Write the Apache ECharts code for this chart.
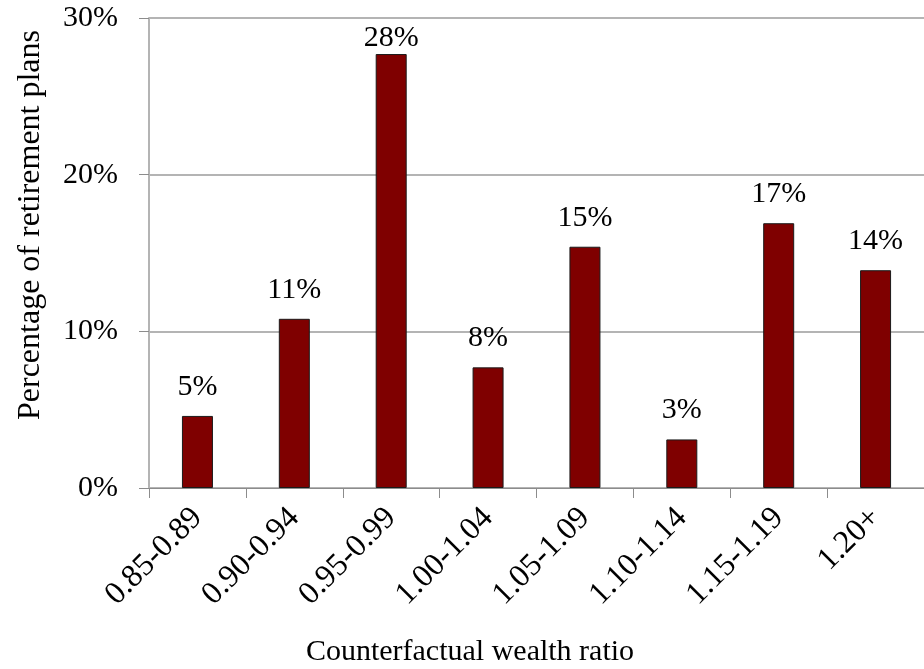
<!DOCTYPE html>
<html>
<head>
<meta charset="utf-8">
<script src="https://cdn.jsdelivr.net/npm/echarts@6/dist/echarts.min.js"></script>
<style>
  html, body { margin: 0; padding: 0; background: #fff; }
  #chart { width: 924px; height: 669px; }
</style>
</head>
<body>
<div id="chart"></div>
<script>
// Share of retirement plans by counterfactual wealth ratio bucket
const categories = ['0.85-0.89', '0.90-0.94', '0.95-0.99', '1.00-1.04', '1.05-1.09', '1.10-1.14', '1.15-1.19', '1.20+'];
const shares = [4.6, 10.8, 27.7, 7.7, 15.4, 3.1, 16.9, 13.9];
const yTicks = [0, 10, 20, 30];
const xTitle = 'Counterfactual wealth ratio';
const yTitle = 'Percentage of retirement plans';

const serif = '"Liberation Serif", "Times New Roman", serif';

const chart = echarts.init(document.getElementById('chart'), null, { renderer: 'canvas' });

const barData = shares.map(v => {
  const item = { value: v };
  // the tallest bar's label sits closer, kept inside the plot
  if (v === Math.max(...shares)) item.label = { distance: 1 };
  return item;
});

chart.setOption({
  animation: false,
  backgroundColor: '#ffffff',
  grid: { left: 149, right: -7, top: 18, bottom: 181, containLabel: false },
  xAxis: {
    type: 'category',
    data: categories,
    boundaryGap: true,
    axisLine: { show: true, lineStyle: { color: '#8c8c8c', width: 1 } },
    axisTick: { show: true, alignWithLabel: false, length: 10, lineStyle: { color: '#8c8c8c' } },
    axisLabel: {
      rotate: 45,
      margin: 25,
      color: '#000',
      fontFamily: serif,
      fontSize: 32,
      interval: 0
    },
    splitLine: { show: false }
  },
  yAxis: {
    type: 'value',
    min: yTicks[0],
    max: yTicks[yTicks.length - 1],
    interval: 10,
    axisLine: { show: true, lineStyle: { color: '#b4b4b4', width: 2 } },
    axisTick: { show: true, length: 10, lineStyle: { color: '#8c8c8c' } },
    axisLabel: {
      margin: 31,
      color: '#000',
      fontFamily: serif,
      fontSize: 30,
      formatter: v => v + '%'
    },
    splitLine: { show: true, lineStyle: { color: '#b4b4b4', width: 2 } }
  },
  series: [{
    type: 'bar',
    data: barData,
    barWidth: 31,
    itemStyle: { color: '#7f0000', borderColor: '#1a1a1a', borderWidth: 1 },
    label: {
      show: true,
      position: 'top',
      distance: 14,
      color: '#000',
      fontFamily: serif,
      fontSize: 30,
      formatter: p => Math.round(p.value) + '%'
    }
  }],
  graphic: [
    {
      type: 'text',
      x: 31, y: 225,
      rotation: Math.PI / 2,
      style: {
        text: yTitle,
        font: '32px ' + serif,
        fill: '#000',
        align: 'center',
        verticalAlign: 'middle'
      }
    },
    {
      type: 'text',
      x: 470, y: 652,
      style: {
        text: xTitle,
        font: '30px ' + serif,
        fill: '#000',
        align: 'center',
        verticalAlign: 'middle'
      }
    }
  ]
});
</script>
</body>
</html>
